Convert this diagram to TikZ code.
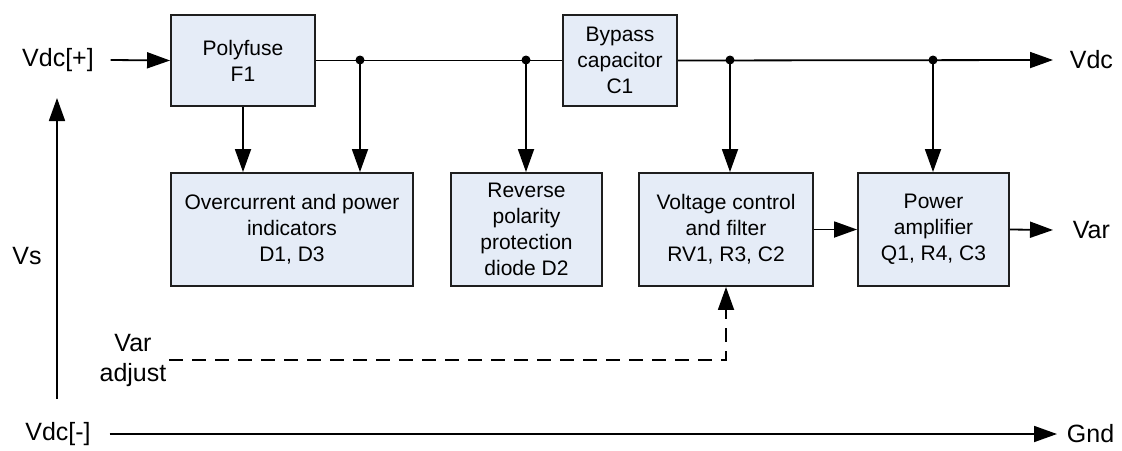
\documentclass[tikz,border=0pt]{standalone}
\usepackage{fontspec}
\setmainfont{Liberation Sans}
\usepackage{tikz}
\usetikzlibrary{arrows.meta, calc}
\definecolor{lichtblauw}{RGB}{229,236,247}
\definecolor{rand}{RGB}{30,30,30}

\begin{document}
\begin{tikzpicture}[x=1pt, y=-1pt, line width=1.8pt,
  >={Triangle[length=23pt, width=16pt]},
  blok/.style={draw=rand, fill=lichtblauw, line width=1.9pt, align=center, inner sep=0pt,
    font=\fontsize{21}{26}\selectfont, minimum height=113pt},
  etiket/.style={font=\fontsize{25}{30}\selectfont, inner sep=0pt, align=center}]
  \useasboundingbox (0,0) rectangle (1122,450);
  % blokken bovenaan
  \node[blok, minimum width=144pt, minimum height=91pt] (fuse) at (243,60.5) {Polyfuse\\F1};
  \node[blok, minimum width=114pt, minimum height=91pt] (bypass) at (620,60.5) {Bypass\\capacitor\\C1};
  % blokken onderaan
  \node[blok, minimum width=242pt] (ind) at (292,229.5) {Overcurrent and power\\indicators\\D1, D3};
  \node[blok, minimum width=151pt] (rev) at (526.5,229.5) {Reverse\\polarity\\protection\\diode D2};
  \node[blok, minimum width=174pt] (vctl) at (726,229.5) {Voltage control\\and filter\\RV1, R3, C2};
  \node[blok, minimum width=151pt] (amp) at (933.5,229.5) {Power\\amplifier\\Q1, R4, C3};
  % etiketten
  \node[etiket] (vdcp) at (58,60) {Vdc[+]};
  \node[etiket] (vs) at (27,256) {Vs};
  \node[etiket] (varadj) at (133,360) {Var\\adjust};
  \node[etiket] (vdcm) at (58,434) {Vdc[-]};
  \node[etiket, anchor=west] (vdc) at (1069,60) {Vdc};
  \node[etiket, anchor=west] (var) at (1072,230) {Var};
  \node[etiket, anchor=west] (gnd) at (1066,434) {Gnd};
  % knooppunten
  \coordinate (j1) at (360,60);
  \coordinate (j2) at (526,60);
  \coordinate (j3) at (730,60);
  \coordinate (j4) at (933,60);
  \foreach \j in {j1,j2,j3,j4} \fill (\j) circle (4.5pt);
  % hoofdlijn
  \draw[->] ([xshift=16pt]vdcp.east) -- (fuse.west);
  \draw (fuse.east) -- (bypass.west);
  \draw[->] (bypass.east) -- ([xshift=-16pt]vdc.west);
  % aftakkingen
  \draw[->] (fuse.south) -- (fuse.south |- ind.north);
  \draw[->] (j1) -- (j1 |- ind.north);
  \draw[->] (j2) -- (j2 |- rev.north);
  \draw[->] (j3) -- (j3 |- vctl.north);
  \draw[->] (j4) -- (j4 |- amp.north);
  % signaalpad
  \draw[->] (vctl.east) -- (amp.west);
  \draw[->] (amp.east) -- ([xshift=-19pt]var.west);
  \draw[->, dash pattern=on 14pt off 9pt] ([xshift=2pt]varadj.east) -| (vctl.south);
  % voedingsspanning
  \coordinate (vsonder) at (57,399);
  \coordinate (vsboven) at (57,98);
  \draw[->] (vsonder) -- (vsboven);
  \draw[->] ([xshift=18pt]vdcm.east) -- ([xshift=-9pt]gnd.west);
\end{tikzpicture}
\end{document}
